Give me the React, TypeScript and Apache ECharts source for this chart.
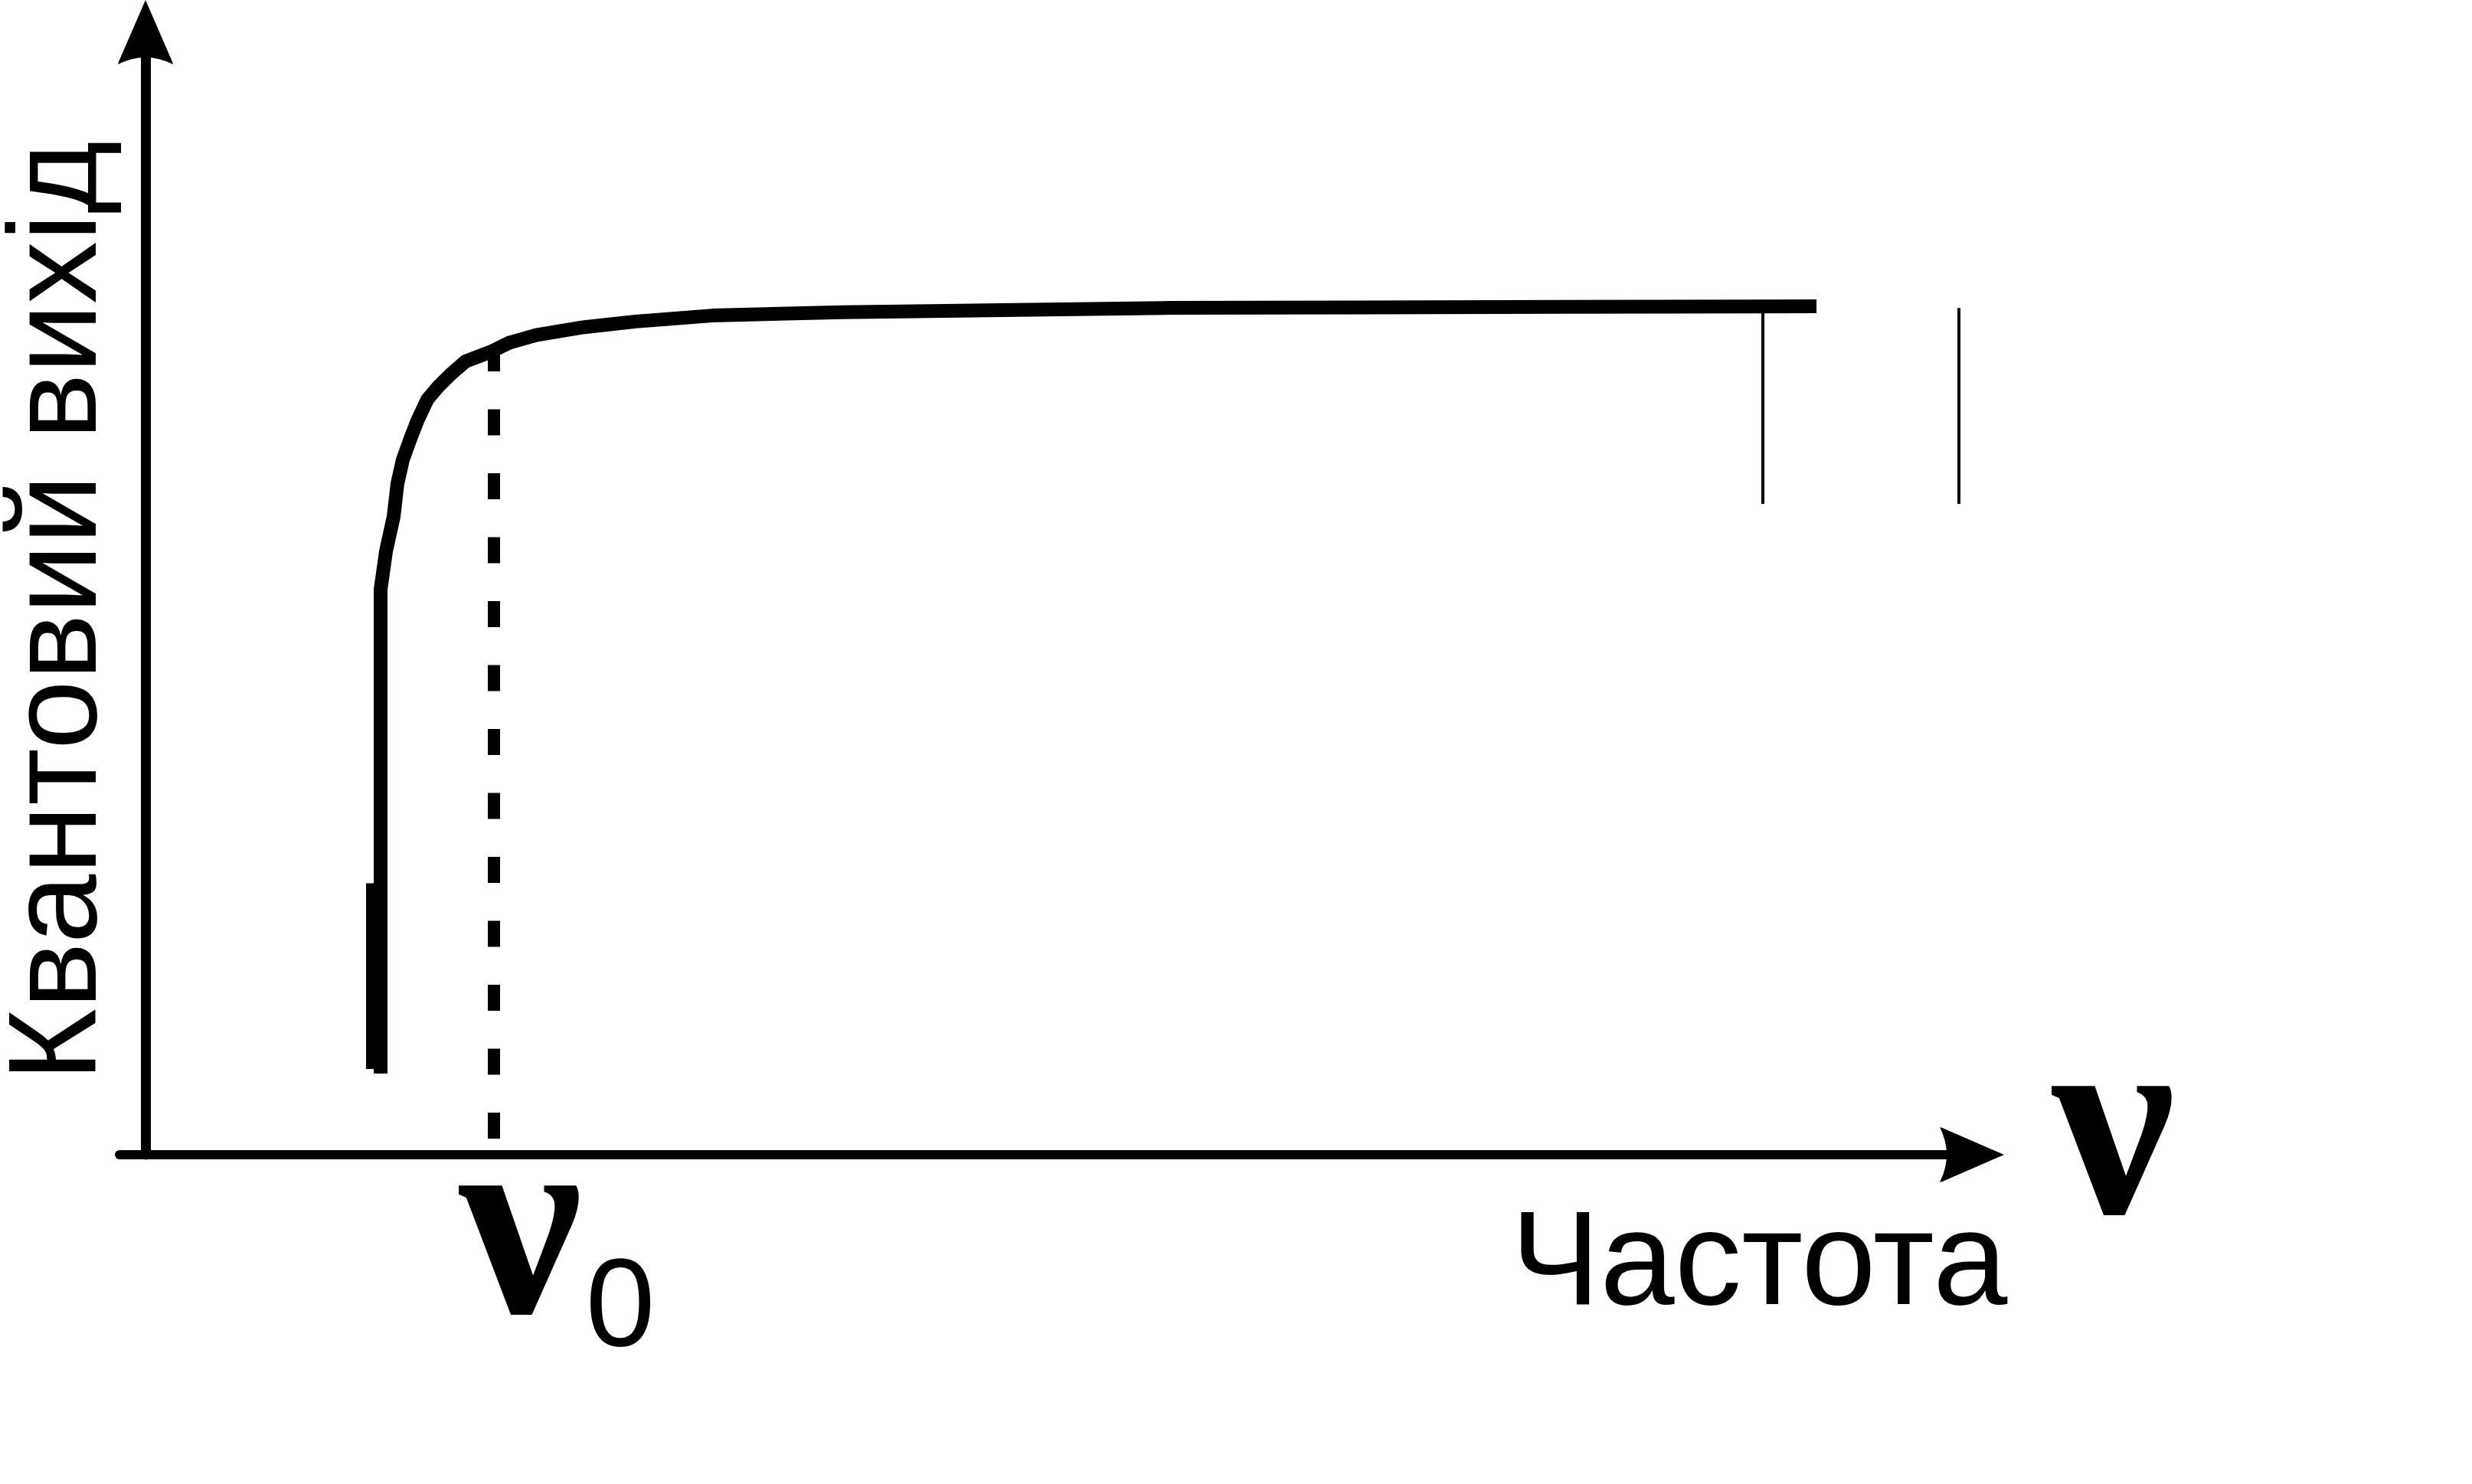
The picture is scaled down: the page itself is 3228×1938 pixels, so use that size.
import React, { useEffect, useRef } from "react";
import * as echarts from "echarts";

// Quantum yield curve (frequency in arbitrary units, yield normalised to the plateau)
const curveX = [3.07, 3.07, 3.14, 3.24, 3.29, 3.36, 3.46, 3.55, 3.68, 3.82, 4.0, 4.18, 4.5, 4.75, 5.1, 5.7, 6.4, 7.4, 9.1, 13.3, 21.82];
const curveY = [0.0957, 0.666, 0.711, 0.752, 0.791, 0.819, 0.844, 0.865, 0.89, 0.905, 0.921, 0.935, 0.946, 0.957, 0.966, 0.975, 0.982, 0.989, 0.993, 0.998, 1.0];

// thicker foot of the rising edge
const footX = [2.93, 2.93];
const footY = [0.101, 0.32];

// threshold frequency nu0 (dashed line)
const thresholdX = 4.55;
const thresholdY = [0.954, 0];

// two thin vertical marks at the right end
const markX = [21.12, 23.68];
const markTop = [1.0, 0.998];
const markBottom = [0.767, 0.767];

const yTitle = "Квантовий вихід";
const xTitle = "Частота";
const nuSymbol = "ν";
const nuSub = "0";

const ARROW = "path://M36,0 L69,76 Q71,80 72,84 Q36,66 0,84 Q1,80 3,76 Z";

export default function App() {
  const ref = useRef<HTMLDivElement>(null);
  useEffect(() => {
    if (!ref.current) return;
    const chart = echarts.init(ref.current, undefined, { renderer: "svg" });
    const black = "#000";
    const curve = curveX.map((x, i) => [x, curveY[i]]);
    const foot = footX.map((x, i) => [x, footY[i]]);
    const thr = thresholdY.map((y) => [thresholdX, y]);
    const markSeries = markX.map((x, i) => ({
      type: "line" as const,
      data: [
        [x, markTop[i]],
        [x, markBottom[i]],
      ],
      symbol: "none",
      lineStyle: { color: black, width: 4 },
      z: 3,
    }));
    chart.setOption({
      animation: false,
      backgroundColor: "#fff",
      grid: { left: 156, right: 653, top: 42, bottom: 430, containLabel: false, outerBoundsMode: "none" },
      xAxis: {
        type: "value",
        min: -0.34,
        max: 23.85,
        axisLine: {
          onZero: true,
          symbol: ["none", ARROW],
          symbolSize: [72, 84],
          lineStyle: { color: black, width: 12 },
        },
        axisTick: { show: false },
        axisLabel: { show: false },
        splitLine: { show: false },
      },
      yAxis: {
        type: "value",
        min: 0,
        max: 1.323,
        axisLine: {
          onZero: true,
          symbol: ["none", ARROW],
          symbolSize: [72, 84],
          lineStyle: { color: black, width: 13 },
        },
        axisTick: { show: false },
        axisLabel: { show: false },
        splitLine: { show: false },
      },
      series: [
        {
          type: "line",
          data: thr,
          symbol: "none",
          lineStyle: { color: black, width: 16, type: [34, 49.5], cap: "butt" },
          z: 2,
        },
        {
          type: "line",
          data: curve,
          symbol: "none",
          lineStyle: { color: black, width: 18, cap: "butt", join: "round" },
          z: 4,
        },
        {
          type: "line",
          data: foot,
          symbol: "none",
          lineStyle: { color: black, width: 10, cap: "butt" },
          z: 4,
        },
        ...markSeries,
      ],
      graphic: [
        {
          type: "text",
          x: 68,
          y: 798,
          rotation: Math.PI / 2,
          style: {
            text: yTitle,
            font: '163px "Liberation Sans", Arial, sans-serif',
            fill: black,
            align: "center",
            verticalAlign: "middle",
          },
        },
        {
          type: "text",
          x: 2297,
          y: 1642,
          style: {
            text: xTitle,
            font: '175px "Liberation Sans", Arial, sans-serif',
            fill: black,
            align: "center",
            verticalAlign: "middle",
          },
        },
        {
          type: "text",
          x: 2760,
          y: 1462,
          style: {
            text: nuSymbol,
            font: 'bold 360px "Liberation Serif", "Times New Roman", serif',
            fill: black,
            align: "center",
            verticalAlign: "middle",
          },
        },
        {
          type: "text",
          x: 680,
          y: 1592,
          style: {
            text: nuSymbol,
            font: 'bold 360px "Liberation Serif", "Times New Roman", serif',
            fill: black,
            align: "center",
            verticalAlign: "middle",
          },
        },
        {
          type: "text",
          x: 810,
          y: 1700,
          style: {
            text: nuSub,
            font: '163px "Liberation Sans", Arial, sans-serif',
            fill: black,
            align: "center",
            verticalAlign: "middle",
          },
        },
      ],
    });
    return () => chart.dispose();
  }, []);
  return (
    <div
      ref={ref}
      style={{ position: "fixed", left: 0, top: 0, width: 3228, height: 1938, background: "#fff" }}
    />
  );
}
